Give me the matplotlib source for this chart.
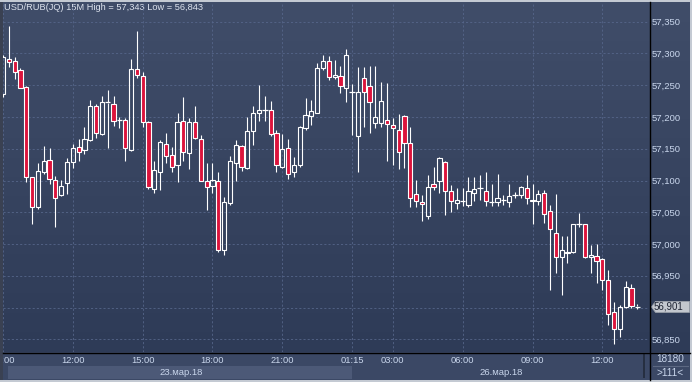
import numpy as np
import matplotlib
matplotlib.use("Agg")
import matplotlib.pyplot as plt
from matplotlib.patches import Rectangle, Polygon
from matplotlib.colors import LinearSegmentedColormap

W, H = 692, 382
plt.rcParams['font.family'] = ['Liberation Sans', 'DejaVu Sans']

# 15M candles, 23.03 09:00 ... 26.03 13:30
opens = [57.236, 57.292, 57.288, 57.274, 57.247, 57.105, 57.058, 57.114, 57.132, 57.100,
         57.077, 57.096, 57.129, 57.152, 57.148, 57.164, 57.217, 57.173, 57.222, 57.221,
         57.195, 57.195, 57.148, 57.276, 57.264, 57.192, 57.087, 57.114, 57.158, 57.140,
         57.125, 57.194, 57.144, 57.192, 57.166, 57.099, 57.091, 57.099, 56.990, 57.064,
         57.128, 57.154, 57.120, 57.178, 57.206, 57.211, 57.211, 57.175, 57.122, 57.151,
         57.114, 57.124, 57.182, 57.201, 57.207, 57.277, 57.288, 57.263, 57.265, 57.246,
         57.240, 57.170, 57.261, 57.248, 57.190, 57.191, 57.195, 57.187, 57.179, 57.201,
         57.159, 57.078, 57.066, 57.044, 57.095, 57.100, 57.129, 57.083, 57.064, 57.067,
         57.061, 57.080, 57.088, 57.083, 57.066, 57.066, 57.069, 57.066, 57.077, 57.077,
         57.088, 57.070, 57.068, 57.080, 57.052, 57.018, 56.979, 56.988, 56.988, 57.032,
         57.031, 56.979, 56.981, 56.976, 56.944, 56.893, 56.867, 56.901, 56.931, 56.902]
highs = [57.298, 57.343, 57.294, 57.277, 57.248, 57.106, 57.128, 57.154, 57.151, 57.107,
         57.101, 57.136, 57.157, 57.166, 57.184, 57.226, 57.220, 57.233, 57.242, 57.233,
         57.200, 57.198, 57.291, 57.335, 57.271, 57.194, 57.130, 57.164, 57.174, 57.152,
         57.206, 57.232, 57.198, 57.217, 57.171, 57.127, 57.127, 57.114, 57.074, 57.138,
         57.164, 57.156, 57.200, 57.217, 57.250, 57.233, 57.225, 57.180, 57.173, 57.165,
         57.137, 57.186, 57.230, 57.226, 57.285, 57.297, 57.296, 57.290, 57.280, 57.307,
         57.252, 57.278, 57.278, 57.280, 57.280, 57.255, 57.253, 57.198, 57.205, 57.203,
         57.185, 57.101, 57.077, 57.109, 57.121, 57.137, 57.130, 57.093, 57.088, 57.088,
         57.105, 57.106, 57.109, 57.113, 57.095, 57.110, 57.077, 57.095, 57.082, 57.092,
         57.109, 57.095, 57.085, 57.085, 57.061, 57.078, 57.012, 57.012, 57.032, 57.049,
         57.032, 56.998, 57.000, 56.978, 56.959, 56.908, 56.904, 56.941, 56.937, 56.906]
lows = [57.232, 57.279, 57.260, 57.245, 57.098, 57.032, 57.055, 57.111, 57.094, 57.027,
        57.075, 57.078, 57.120, 57.131, 57.142, 57.162, 57.167, 57.172, 57.151, 57.186,
        57.182, 57.131, 57.147, 57.262, 57.184, 57.087, 57.081, 57.085, 57.127, 57.114,
        57.098, 57.131, 57.118, 57.166, 57.099, 57.053, 57.081, 56.988, 56.983, 57.062,
        57.100, 57.115, 57.118, 57.156, 57.194, 57.194, 57.170, 57.114, 57.119, 57.102,
        57.106, 57.122, 57.180, 57.188, 57.206, 57.274, 57.258, 57.260, 57.238, 57.224,
        57.172, 57.114, 57.185, 57.175, 57.182, 57.184, 57.130, 57.124, 57.118, 57.119,
        57.058, 57.058, 57.037, 57.039, 57.085, 57.081, 57.046, 57.051, 57.055, 57.060,
        57.058, 57.068, 57.069, 57.060, 57.060, 57.060, 57.061, 57.059, 57.073, 57.073,
        57.063, 57.032, 57.061, 57.033, 56.927, 56.954, 56.920, 56.970, 56.986, 57.027,
        56.978, 56.954, 56.938, 56.927, 56.872, 56.843, 56.854, 56.900, 56.899, 56.898]
closes = [57.294, 57.286, 57.271, 57.246, 57.106, 57.059, 57.115, 57.130, 57.102, 57.073,
          57.092, 57.129, 57.151, 57.145, 57.165, 57.218, 57.174, 57.223, 57.223, 57.194,
          57.195, 57.151, 57.276, 57.266, 57.192, 57.089, 57.116, 57.160, 57.139, 57.122,
          57.192, 57.145, 57.192, 57.167, 57.100, 57.089, 57.100, 56.990, 57.066, 57.130,
          57.156, 57.122, 57.178, 57.207, 57.211, 57.211, 57.173, 57.125, 57.149, 57.111,
          57.124, 57.185, 57.203, 57.209, 57.277, 57.288, 57.263, 57.266, 57.248, 57.297,
          57.240, 57.240, 57.240, 57.223, 57.200, 57.225, 57.189, 57.182, 57.145, 57.159,
          57.073, 57.067, 57.063, 57.090, 57.089, 57.136, 57.084, 57.068, 57.070, 57.067,
          57.084, 57.086, 57.088, 57.067, 57.066, 57.072, 57.069, 57.076, 57.077, 57.089,
          57.073, 57.068, 57.079, 57.048, 57.023, 56.980, 56.990, 56.986, 57.032, 57.032,
          56.979, 56.982, 56.974, 56.944, 56.890, 56.866, 56.901, 56.933, 56.903, 56.901]

tick_pos = [0, 12, 24, 36, 48, 60, 67, 79, 91, 103]
tick_labels = ["09:00", "12:00", "15:00", "18:00", "21:00", "01:15", "03:00", "06:00", "09:00", "12:00"]
price_ticks = [56.85, 56.90, 56.95, 57.00, 57.05, 57.10, 57.15, 57.20, 57.25, 57.30, 57.35]
last_price = 56.901
title = "USD/RUB(JQ) 15M High = 57,343 Low = 56,843"
days = ["23.мар.18", "26.мар.18"]

TXT = "#c9d6ec"
BEAR = "#dc143c"

fig = plt.figure(figsize=(W / 100, H / 100), dpi=100, facecolor="#c4cad3")

def box(x0, y0, x1, y1):
    return [x0 / W, 1 - y1 / H, (x1 - x0) / W, (y1 - y0) / H]

# background / panels (pixel coords)
bg = fig.add_axes([0, 0, 1, 1], zorder=0)
bg.set_xlim(0, W)
bg.set_ylim(H, 0)
bg.axis("off")
cmap = LinearSegmentedColormap.from_list("bg", ["#404d69", "#2e3b57"])
bg.imshow(np.linspace(0, 1, 256).reshape(-1, 1), extent=(2, 690, 352, 2),
          aspect="auto", cmap=cmap, interpolation="bilinear")
bg.add_patch(Rectangle((2, 352), 688, 28, color="#3b4865", lw=0))
bg.add_patch(Rectangle((8, 366), 344, 13, color="#4c5977", lw=0))
bg.add_patch(Rectangle((642.5, 354), 2, 24, color="#262f41", lw=0))
bg.text(181, 372.5, days[0], color=TXT, fontsize=6.8, ha="center", va="center")
bg.text(501, 372.5, days[1], color=TXT, fontsize=6.8, ha="center", va="center")
bg.text(670, 359, "18180", color=TXT, fontsize=7.2, ha="center", va="center")
bg.plot([653, 688], [366, 366], color="#5c6882", lw=0.8)
bg.text(670, 372.5, ">111<", color=TXT, fontsize=7.2, ha="center", va="center")
bg.text(3.5, 8, title, color="#dde3ee", fontsize=6.7, ha="left", va="center")

# candles
ax = fig.add_axes(box(3, 3, 649, 352), zorder=1)
ax.patch.set_visible(False)
step, x0 = 5.82, 2.86
ax.set_xlim((3 - x0) / step, (649 - x0) / step)
ax.set_ylim(57.35 - (352 - 21.7) / 635.2, 57.35 + (21.7 - 3) / 635.2)
for s in ax.spines.values():
    s.set_visible(False)

bw = 0.72
for i, (o, h, l, c) in enumerate(zip(opens, highs, lows, closes)):
    top, bot = max(o, c), min(o, c)
    ax.vlines(i, top, h, color="white", lw=0.8, zorder=3)
    ax.vlines(i, l, bot, color="white", lw=0.8, zorder=3)
    if top - bot < 0.0015:
        ax.hlines(c, i - bw / 2 - 0.1, i + bw / 2 + 0.1, color="white", lw=0.9, zorder=3)
    else:
        face = BEAR if c < o else "none"
        ax.add_patch(Rectangle((i - bw / 2, bot), bw, top - bot, facecolor=face,
                               edgecolor="white", lw=0.8, zorder=4))

ax.set_xticks(tick_pos, tick_labels)
ax.yaxis.tick_right()
ax.set_yticks(price_ticks, ["" if abs(p - 56.90) < 1e-6 else f"{p:.3f}".replace(".", ",")
                            for p in price_ticks])
ax.tick_params(axis="x", length=0, pad=3, labelsize=6.7, colors=TXT)
ax.tick_params(axis="y", length=0, pad=2.0, labelsize=6.8, colors=TXT)
ax.set_axisbelow(True)
ax.grid(True, color="#56668a", linestyle=(0, (2.5, 2.5)), linewidth=0.6)

# borders, separators, price marker
ov = fig.add_axes([0, 0, 1, 1], zorder=2)
ov.set_xlim(0, W)
ov.set_ylim(H, 0)
ov.axis("off")
ov.add_patch(Rectangle((0, 0), 2.6, H, color="#3a4152", lw=0))
ov.add_patch(Rectangle((0, 0), W, 2, color="#c4cad3", lw=0))
ov.add_patch(Rectangle((0, 380), W, 2, color="#c4cad3", lw=0))
ov.add_patch(Rectangle((690, 0), 2, H, color="#c4cad3", lw=0))
ov.plot([649.5, 649.5], [2, 380], color="black", lw=1.0)
ov.plot([2.6, 690], [352.5, 352.5], color="black", lw=1.0)
ym = 21.7 + (57.35 - last_price) * 635.2
ov.add_patch(Polygon([(651.5, ym), (655.5, ym - 5.5), (689.5, ym - 5.5),
                      (689.5, ym + 5.5), (655.5, ym + 5.5)],
                     closed=True, facecolor="#c3c7ce", edgecolor="#9aa0aa", lw=0.6))
ov.text(668.5, ym, f"{last_price:.3f}".replace(".", ","), color="#1e2433",
        fontsize=7.0, ha="center", va="center")

fig.savefig("out.png", dpi=100)
